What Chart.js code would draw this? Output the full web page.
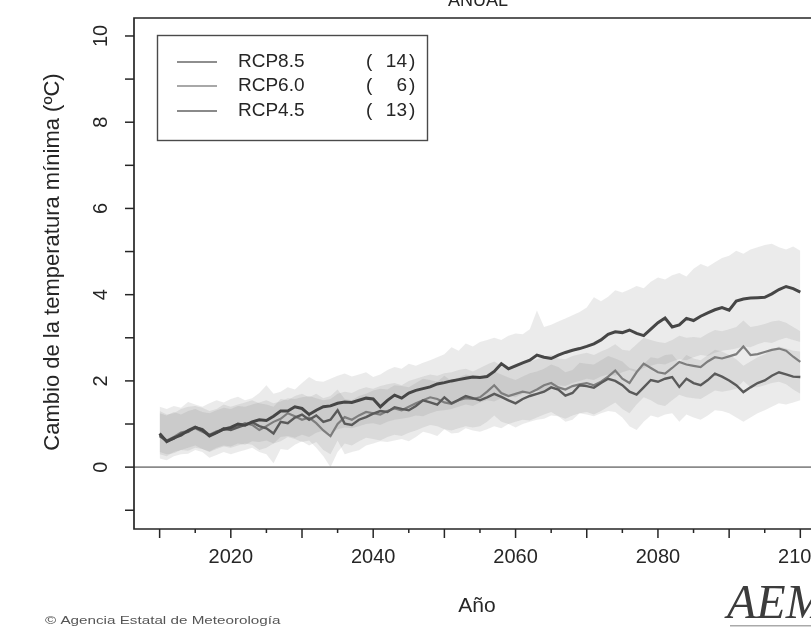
<!DOCTYPE html>
<html><head><meta charset="utf-8">
<script src="https://cdn.jsdelivr.net/npm/chart.js@4.4.1/dist/chart.umd.min.js"></script>
<style>html,body{margin:0;padding:0;background:#fff;overflow:hidden}#wrap{width:811px;height:629px;position:relative}</style>
</head><body><div id="wrap"><canvas id="c" width="811" height="629"></canvas></div>
<script>
const years = [2010,2011,2012,2013,2014,2015,2016,2017,2018,2019,
2020,2021,2022,2023,2024,2025,2026,2027,2028,2029,
2030,2031,2032,2033,2034,2035,2036,2037,2038,2039,
2040,2041,2042,2043,2044,2045,2046,2047,2048,2049,
2050,2051,2052,2053,2054,2055,2056,2057,2058,2059,
2060,2061,2062,2063,2064,2065,2066,2067,2068,2069,
2070,2071,2072,2073,2074,2075,2076,2077,2078,2079,
2080,2081,2082,2083,2084,2085,2086,2087,2088,2089,
2090,2091,2092,2093,2094,2095,2096,2097,2098,2099,2100];

const seriesNames = ["RCP8.5","RCP6.0","RCP4.5"];
const modelCounts = [14, 6, 13];

const rcp85 = [0.78,0.59,0.68,0.74,0.85,0.93,0.86,0.72,0.80,0.88,
0.92,1.00,0.97,1.05,1.10,1.08,1.18,1.30,1.30,1.40,
1.36,1.22,1.32,1.40,1.42,1.48,1.51,1.50,1.55,1.60,
1.58,1.40,1.55,1.67,1.60,1.72,1.78,1.82,1.86,1.93,
1.96,2.00,2.03,2.06,2.09,2.08,2.10,2.22,2.40,2.28,
2.35,2.42,2.48,2.60,2.55,2.52,2.60,2.66,2.71,2.75,
2.80,2.86,2.95,3.08,3.14,3.12,3.18,3.10,3.05,3.20,
3.35,3.46,3.25,3.30,3.45,3.40,3.50,3.58,3.65,3.70,
3.64,3.85,3.90,3.92,3.93,3.94,4.02,4.12,4.19,4.14,4.06];

const rcp60 = [0.75,0.62,0.70,0.80,0.84,0.90,0.82,0.75,0.83,0.87,
0.88,0.95,1.02,0.98,0.86,0.95,1.05,1.12,1.25,1.18,
1.10,1.15,1.02,0.85,0.72,1.00,1.16,1.10,1.20,1.28,
1.25,1.22,1.30,1.36,1.32,1.40,1.48,1.55,1.62,1.58,
1.50,1.47,1.55,1.60,1.58,1.62,1.75,1.90,1.72,1.65,
1.70,1.75,1.72,1.80,1.90,1.95,1.85,1.80,1.88,1.92,
1.95,1.90,1.98,2.10,2.24,2.05,1.95,2.20,2.40,2.30,
2.20,2.17,2.30,2.44,2.38,2.35,2.32,2.45,2.55,2.52,
2.57,2.62,2.80,2.60,2.62,2.67,2.72,2.75,2.70,2.56,2.44];

const rcp45 = [0.72,0.60,0.66,0.78,0.82,0.92,0.88,0.74,0.80,0.90,
0.86,0.92,0.98,1.04,0.95,0.90,0.78,1.05,1.02,1.15,
1.22,1.10,1.20,1.05,1.10,1.32,1.01,0.98,1.10,1.16,
1.24,1.30,1.28,1.39,1.35,1.32,1.42,1.55,1.50,1.45,
1.62,1.48,1.56,1.65,1.60,1.55,1.62,1.70,1.63,1.55,
1.48,1.58,1.65,1.70,1.75,1.85,1.80,1.66,1.72,1.90,
1.88,1.84,1.95,2.05,2.00,1.90,1.75,1.68,1.85,2.02,
1.98,2.05,2.09,1.86,2.05,1.95,1.90,2.02,2.17,2.10,
2.01,1.90,1.74,1.85,1.95,2.01,2.12,2.20,2.15,2.10,2.09];

const rcp85Upper = [1.40,1.35,1.42,1.38,1.51,1.45,1.40,1.48,1.55,1.50,
1.58,1.63,1.55,1.60,1.72,1.90,1.70,1.75,1.85,1.80,
1.95,2.09,2.00,1.98,2.05,2.12,2.17,2.10,2.15,2.20,
2.09,2.15,2.25,2.32,2.28,2.40,2.35,2.42,2.48,2.55,
2.62,2.78,2.70,2.87,2.80,2.90,2.95,3.00,2.95,3.05,
3.10,3.08,3.20,3.63,3.25,3.30,3.38,3.45,3.52,3.60,
3.70,3.94,3.85,3.95,4.10,4.05,4.12,4.20,4.15,4.30,
4.40,4.35,4.45,4.50,4.42,4.60,4.71,4.65,4.75,4.85,
4.90,5.02,4.95,5.05,5.10,5.15,5.18,5.10,5.05,5.12,5.02];

const rcp85Lower = [0.30,0.25,0.35,0.40,0.38,0.45,0.42,0.36,0.45,0.50,
0.48,0.55,0.52,0.60,0.58,0.62,0.55,0.70,0.72,0.68,
0.75,0.70,0.80,0.85,0.78,0.88,0.92,0.90,0.95,1.00,
1.02,0.98,1.05,1.10,1.12,1.15,1.20,1.18,1.25,1.30,
1.32,1.35,1.40,1.45,1.42,1.50,1.55,1.52,1.60,1.65,
1.62,1.70,1.75,1.78,1.72,1.85,1.90,1.88,1.95,2.00,
2.05,2.02,2.10,2.15,2.12,2.20,2.25,2.20,2.30,2.35,
2.40,2.38,2.45,2.50,2.48,2.55,2.60,2.58,2.65,2.70,
2.72,2.75,2.80,2.78,2.85,2.90,2.88,2.95,3.00,2.95,2.90];

const rcp60Upper = [1.25,1.20,1.28,1.22,1.30,1.35,1.28,1.25,1.32,1.38,
1.35,1.42,1.40,1.45,1.50,1.55,1.48,1.52,1.60,1.58,
1.62,1.65,1.60,1.55,1.58,1.70,1.75,1.72,1.80,1.85,
1.82,1.88,1.92,1.95,1.90,2.00,2.05,2.10,2.15,2.12,
2.18,2.20,2.25,2.28,2.22,2.30,2.38,2.45,2.35,2.32,
2.40,2.42,2.45,2.50,2.55,2.60,2.52,2.50,2.58,2.62,
2.65,2.60,2.68,2.75,2.85,2.72,2.70,2.85,3.00,2.95,
2.90,2.88,2.95,3.05,3.00,3.02,3.00,3.10,3.18,3.15,
3.20,3.25,3.40,3.25,3.28,3.32,3.38,3.40,3.35,3.25,3.15];

const rcp60Lower = [0.35,0.30,0.32,0.40,0.45,0.50,0.42,0.35,0.42,0.48,
0.45,0.50,0.55,0.52,0.40,0.45,0.55,0.60,0.70,0.65,
0.58,0.62,0.45,0.25,0.00,0.35,0.55,0.50,0.60,0.68,
0.65,0.62,0.70,0.75,0.72,0.80,0.85,0.92,0.98,0.95,
0.88,0.85,0.90,0.95,0.92,0.95,1.05,1.20,1.05,1.00,
1.05,1.10,1.08,1.15,1.22,1.28,1.18,1.12,1.20,1.25,
1.28,1.22,1.30,1.40,1.50,1.35,1.25,1.45,1.62,1.55,
1.45,1.42,1.55,1.68,1.62,1.60,1.58,1.68,1.78,1.75,
1.78,1.82,2.00,1.85,1.85,1.90,1.95,1.98,1.92,1.80,1.70];

const rcp45Upper = [1.30,1.22,1.25,1.35,1.40,1.42,1.38,1.30,1.35,1.45,
1.40,1.45,1.50,1.55,1.48,1.45,1.40,1.58,1.55,1.65,
1.70,1.62,1.70,1.60,1.65,1.80,1.58,1.55,1.65,1.70,
1.78,1.82,1.80,1.90,1.88,1.85,1.95,2.05,2.02,1.98,
2.12,2.00,2.08,2.15,2.12,2.08,2.15,2.22,2.15,2.08,
2.02,2.10,2.18,2.22,2.28,2.38,2.32,2.20,2.25,2.42,
2.40,2.38,2.48,2.58,2.52,2.45,2.30,2.25,2.40,2.55,
2.52,2.60,2.62,2.42,2.60,2.52,2.48,2.60,2.72,2.68,
2.60,2.50,2.35,2.45,2.55,2.62,2.72,2.80,2.75,2.70,2.68];

const rcp45Lower = [0.20,0.16,0.25,0.30,0.31,0.40,0.35,0.22,0.28,0.35,
0.30,0.35,0.40,0.45,0.35,0.30,0.09,0.42,0.40,0.52,
0.60,0.50,0.58,0.40,0.30,0.62,0.30,0.35,0.39,0.50,
0.55,0.60,0.58,0.62,0.65,0.60,0.70,0.82,0.78,0.72,
0.88,0.78,0.80,0.90,0.85,0.82,0.88,0.95,0.90,1.00,
0.92,1.00,1.05,1.10,1.12,1.20,1.18,1.05,1.10,1.25,
1.22,1.18,1.25,1.30,1.28,1.15,0.95,0.86,1.05,1.20,
1.15,1.22,1.25,1.05,1.22,1.15,1.10,1.20,1.32,1.30,
1.25,1.15,1.05,1.15,1.25,1.32,1.40,1.48,1.45,1.50,1.55];

const xTickValues = [2010,2015,2020,2025,2030,2035,2040,2045,2050,2055,2060,2065,2070,2075,2080,2085,2090,2095,2100];
const xTickLabels = [2020,2040,2060,2080,2100];
const yTickValues = [-1,0,1,2,3,4,5,6,7,8,9,10];
const yTickLabels = [0,2,4,6,8,10];

const pts = arr => arr.map((v,i)=>({x:years[i], y:v}));
const bandFill = 'rgba(118,118,118,0.145)';
function band(arr, fill){ return {data:pts(arr), fill:fill, backgroundColor:bandFill, borderWidth:0, pointRadius:0, order:10}; }

const lineColors = ['#464646','#7e7e7e','#5a5a5a'];
const legendColors = ['#8e8e8e','#a8a8a8','#8a8a8a'];

const FONT = '"Liberation Sans", Arial, sans-serif';

const decor = {
  id:'decor',
  beforeDatasetsDraw(chart){
    const ctx = chart.ctx, a = chart.chartArea, y = chart.scales.y;
    ctx.save();
    ctx.strokeStyle = '#8a8a8a'; ctx.lineWidth = 1.8;
    const y0 = y.getPixelForValue(0);
    ctx.beginPath(); ctx.moveTo(a.left, y0); ctx.lineTo(a.right, y0); ctx.stroke();
    ctx.restore();
  },
  afterDraw(chart){
    const ctx = chart.ctx, a = chart.chartArea, xs = chart.scales.x, ys = chart.scales.y;
    ctx.save();
    ctx.strokeStyle = '#262626'; ctx.lineWidth = 1.7;
    ctx.beginPath();
    ctx.moveTo(a.right+2, a.top); ctx.lineTo(a.left, a.top); ctx.lineTo(a.left, a.bottom); ctx.lineTo(a.right+2, a.bottom);
    ctx.stroke();
    ctx.lineWidth = 1.5;
    xTickValues.forEach(v=>{
      const px = xs.getPixelForValue(v);
      const len = (v%10===0) ? 9 : 4;
      ctx.beginPath(); ctx.moveTo(px, a.bottom); ctx.lineTo(px, a.bottom+len); ctx.stroke();
    });
    ctx.fillStyle = '#262626';
    ctx.font = '20px ' + FONT; ctx.textAlign='center'; ctx.textBaseline='middle';
    xTickLabels.forEach(v=>{ ctx.fillText(String(v), xs.getPixelForValue(v), 557); });
    yTickValues.forEach(v=>{
      const py = ys.getPixelForValue(v);
      ctx.beginPath(); ctx.moveTo(a.left-9, py); ctx.lineTo(a.left, py); ctx.stroke();
    });
    yTickLabels.forEach(v=>{
      const py = ys.getPixelForValue(v);
      ctx.save(); ctx.translate(101, py); ctx.rotate(-Math.PI/2);
      ctx.fillText(String(v), 0, 0); ctx.restore();
    });
    ctx.font = '21px ' + FONT;
    ctx.fillText('Año', 477, 606);
    ctx.font = '22px ' + FONT;
    ctx.save(); ctx.translate(53, 262); ctx.rotate(-Math.PI/2);
    ctx.fillText('Cambio de la temperatura mínima (ºC)', 0, 0); ctx.restore();
    ctx.font = '18px ' + FONT; ctx.textBaseline='alphabetic';
    ctx.fillText('ANUAL', 478, 6);
    ctx.strokeStyle = '#4a4a4a'; ctx.lineWidth = 1.4;
    ctx.strokeRect(157.5, 35.5, 270, 105);
    const rows = [62, 86, 111];
    ctx.font = '19px ' + FONT; ctx.textBaseline='middle';
    seriesNames.forEach((n,i)=>{
      ctx.strokeStyle = legendColors[i]; ctx.lineWidth = 2;
      ctx.beginPath(); ctx.moveTo(177, rows[i]); ctx.lineTo(217, rows[i]); ctx.stroke();
      ctx.fillStyle = '#262626';
      ctx.textAlign='left'; ctx.fillText(n, 238, rows[i]);
      ctx.fillText('(', 366, rows[i]);
      ctx.textAlign='right'; ctx.fillText(String(modelCounts[i]), 407, rows[i]);
      ctx.textAlign='left'; ctx.fillText(')', 409, rows[i]);
    });
    ctx.fillStyle = '#555'; ctx.font = '10.5px ' + FONT; ctx.textAlign='left';
    ctx.save(); ctx.translate(45, 621); ctx.scale(1.45, 1);
    ctx.fillText('© Agencia Estatal de Meteorología', 0, 0); ctx.restore();
    ctx.fillStyle = '#3c3c3c'; ctx.font = 'italic 48px "Liberation Serif", serif';
    ctx.textBaseline='alphabetic';
    ctx.fillText('AEMET', 727, 618);
    ctx.fillStyle = '#aaa'; ctx.fillRect(730, 625, 81, 1.5);
    ctx.restore();
  }
};

new Chart(document.getElementById('c'), {
  type:'line',
  data:{ datasets:[
    band(rcp85Upper, '+1'), band(rcp85Lower, false),
    band(rcp60Upper, '+1'), band(rcp60Lower, false),
    band(rcp45Upper, '+1'), band(rcp45Lower, false),
    {label:seriesNames[0], data:pts(rcp85), borderColor:lineColors[0], borderWidth:3, pointRadius:0, fill:false, order:0},
    {label:seriesNames[1], data:pts(rcp60), borderColor:lineColors[1], borderWidth:2.2, pointRadius:0, fill:false, order:2},
    {label:seriesNames[2], data:pts(rcp45), borderColor:lineColors[2], borderWidth:2.4, pointRadius:0, fill:false, order:1}
  ]},
  options:{
    responsive:false, animation:false, devicePixelRatio:1,
    layout:{padding:{top:18, right:0, left:0, bottom:0}},
    plugins:{legend:{display:false}, tooltip:{enabled:false}, title:{display:false}},
    scales:{
      x:{type:'linear', min:2006.4, max:2101.5, grid:{display:false}, border:{display:false}, ticks:{display:false},
         afterFit(s){ s.height = 100; }},
      y:{type:'linear', min:-1.435, max:10.417, grid:{display:false}, border:{display:false}, ticks:{display:false},
         afterFit(s){ s.width = 134; }}
    }
  },
  plugins:[decor]
});
</script></body></html>
